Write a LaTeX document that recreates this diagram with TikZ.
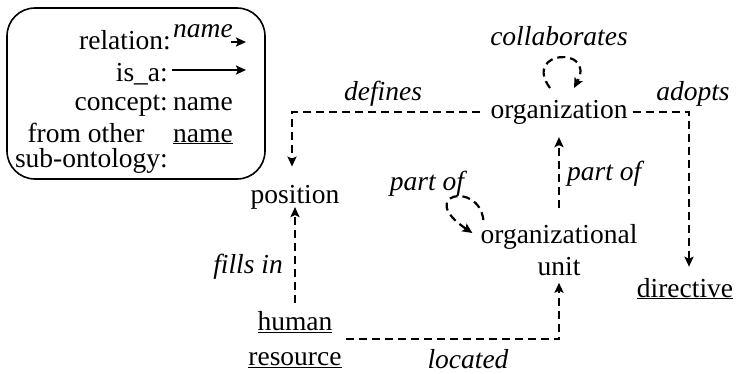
\documentclass[tikz,border=0pt]{standalone}
\usepackage{fontspec}
\setmainfont{Liberation Serif}
\usetikzlibrary{arrows.meta,calc}
\begin{document}
\begin{tikzpicture}[x=1pt,y=-1pt,
  txt/.style={font=\fontsize{27.5}{32}\selectfont, inner sep=0pt},
  lbl/.style={txt, anchor=base},
  rel/.style={lbl, font=\fontsize{27.5}{32}\selectfont\itshape},
  tip/.style={-{Stealth[length=10pt,width=9pt,inset=2pt]}},
  link/.style={tip, line width=2.2pt, dash pattern=on 8pt off 5pt},
  solidarrow/.style={tip, line width=2pt},
]
\useasboundingbox (0,0) rectangle (737,373);

% ---- legend ----
\draw[line width=1.6pt, rounded corners=28pt] (7,8) rectangle (265,179);
\node[lbl, anchor=base east] (kRel) at (171,49) {relation:};
\node[rel, anchor=base west] (kRelName) at (173,37) {name};
\coordinate (kRelA) at (231,42);
\coordinate (kRelB) at (246,42);
\draw[solidarrow] (kRelA) -- (kRelB);
\node[lbl, anchor=base east] (kIsa) at (168,81) {is\_a:};
\coordinate (kIsaA) at (172,70);
\coordinate (kIsaB) at (246,70);
\draw[solidarrow] (kIsaA) -- (kIsaB);
\node[lbl, anchor=base east] (kCon) at (168,110) {concept:};
\node[lbl, anchor=base west] (kConName) at (173,110) {name};
\node[lbl] (kFrom) at (86,142) {from other};
\node[lbl, anchor=base east] (kSub) at (168,167) {sub-ontology:};
\node[lbl, anchor=base west] (kFromName) at (173,142) {\underline{name}};

% ---- concepts ----
\node[lbl] (org) at (559,118) {organization};
\node[lbl] (pos) at (295,203) {position};
\node[txt, anchor=north, align=center] (ou) at (559,224) {organizational\\unit};
\node[txt, anchor=north, align=center, font=\fontsize{27.5}{35}\selectfont] (hr) at (295,311) {\underline{human}\\\underline{resource}};
\node[lbl] (dir) at (685,297) {\underline{directive}};

% ---- relation labels ----
\node[rel] (lColl) at (559,45) {collaborates};
\node[rel] (lDef) at (383,100) {defines};
\node[rel] (lAdo) at (693,100) {adopts};
\node[rel, anchor=base east] (lFill) at (283,273) {fills in};
\node[rel, anchor=base west] (lPart) at (567,180) {part of};
\node[rel] (lPart2) at (427,190) {part of};
\node[rel] (lLoc) at (468,368) {located};

% ---- relations ----
\draw[link, shorten <=10pt, shorten >=18pt] (org.west) -| ([xshift=-3pt]pos.north);
\draw[link, shorten <=5pt, shorten >=11pt] (org.east) -| ([xshift=4pt]dir.north);
\draw[link, shorten <=16pt, shorten >=13pt] (ou.north) -- (org.south);
\draw[link, shorten <=8pt, shorten >=-2pt] (hr.north) -- (pos.south);
\draw[link, shorten <=4pt, shorten >=7pt] (hr.east) -| (ou.south);

% self-loops
\coordinate (collA) at (550,88);
\coordinate (collB) at (574,88);
\draw[link] (collA) .. controls (522,50) and (596,46) .. (collB);
\coordinate (partA) at ($(ou.north west)+(3,-4)$);
\coordinate (partB) at ($(ou.north west)+(-8,9)$);
\draw[link] (partA) .. controls ($(ou.north west)+(-2,-44)$) and ($(ou.north west)+(-65,-29)$) .. (partB);
\end{tikzpicture}
\end{document}
